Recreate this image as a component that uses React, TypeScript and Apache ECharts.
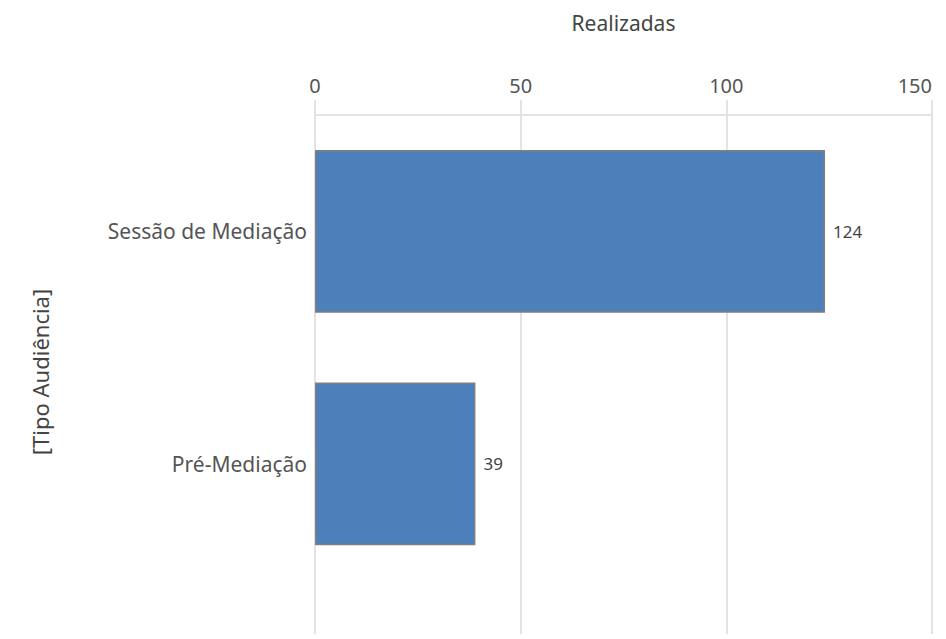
import React, { useEffect, useRef } from "react";
import * as echarts from "echarts";

const categories = ["Sessão de Mediação", "Pré-Mediação"];
const values = [124, 39];
const xMin = 0;
const xMax = 150;
const xInterval = 50;
const xAxisTitle = "Realizadas";
const yAxisTitle = "[Tipo Audiência]";

const FONT = "'Noto Sans', sans-serif";

export default function App() {
  const ref = useRef<HTMLDivElement>(null);
  useEffect(() => {
    if (!ref.current) return;
    const chart = echarts.init(ref.current, undefined, { renderer: "svg" });
    const gridColor = "#e3e3e3";
    chart.setOption({
      animation: false,
      backgroundColor: "#ffffff",
      grid: [
        { left: 315, right: 14, top: 115, bottom: 59, containLabel: false, outerBoundsMode: "none" },
        { left: 315, right: 14, top: 580, bottom: 5, containLabel: false, outerBoundsMode: "none" },
      ],
      xAxis: [
        {
          gridIndex: 0,
          type: "value",
          position: "top",
          min: xMin,
          max: xMax,
          interval: xInterval,
          name: xAxisTitle,
          nameLocation: "middle",
          nameGap: 82,
          nameTextStyle: { color: "#444", fontSize: 21, fontFamily: FONT },
          axisLine: { show: true, lineStyle: { color: gridColor, width: 2 } },
          axisTick: { show: true, length: 15, lineStyle: { color: gridColor, width: 2 } },
          axisLabel: { color: "#555", fontSize: 20, fontFamily: FONT, margin: 20, alignMaxLabel: "right" },
          splitLine: { show: true, lineStyle: { color: gridColor, width: 2 } },
        },
        {
          gridIndex: 1,
          type: "value",
          min: xMin,
          max: xMax,
          interval: xInterval,
          axisLine: { show: false },
          axisTick: { show: false },
          axisLabel: { show: false },
          splitLine: { show: true, lineStyle: { color: gridColor, width: 2 } },
        },
      ],
      yAxis: [
        {
          gridIndex: 0,
          type: "category",
          data: categories,
          inverse: true,
          axisLine: { show: false },
          axisTick: { show: false },
          axisLabel: { color: "#555", fontSize: 21, fontFamily: FONT, margin: 8 },
        },
        {
          gridIndex: 1,
          type: "category",
          data: [""],
          show: false,
        },
      ],
      graphic: [
        {
          type: "text",
          x: 40,
          y: 372,
          rotation: Math.PI / 2,
          style: {
            text: yAxisTitle,
            fill: "#444",
            fontSize: 22,
            fontFamily: FONT,
            align: "center",
            verticalAlign: "middle",
          },
        },
      ],
      series: [
        {
          type: "bar",
          xAxisIndex: 0,
          yAxisIndex: 0,
          data: values,
          barCategoryGap: "30%",
          itemStyle: { color: "#4d7fba", borderColor: "#7f7f7f", borderWidth: 1.5 },
          label: {
            show: true,
            position: "right",
            distance: 8,
            color: "#444",
            fontSize: 17,
            fontFamily: FONT,
          },
        },
      ],
    });
    return () => chart.dispose();
  }, []);
  return <div ref={ref} style={{ width: 946, height: 639, position: "absolute", left: 0, top: 0 }} />;
}
